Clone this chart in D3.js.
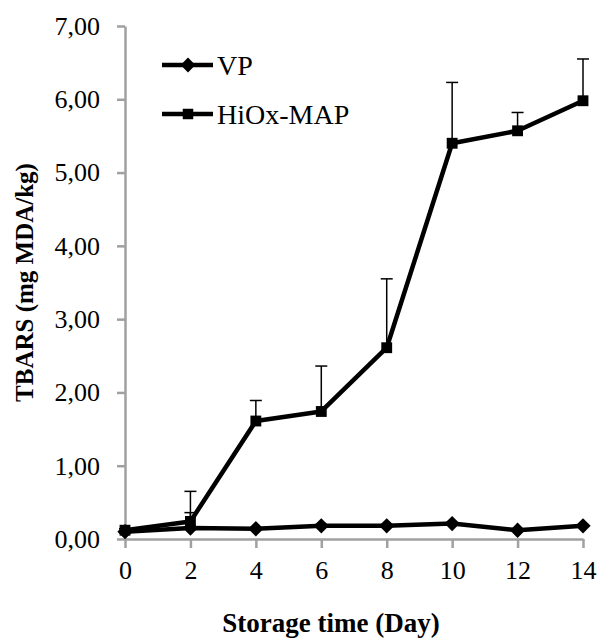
<!DOCTYPE html>
<html>
<head>
<meta charset="utf-8">
<script src="https://cdn.jsdelivr.net/npm/d3@7"></script>
<style>
  body { margin: 0; background: #fff; }
  text { font-family: "Liberation Serif", "Times New Roman", serif; fill: #000; }
</style>
</head>
<body>
<div id="chart"></div>
<script>
const days = [0, 2, 4, 6, 8, 10, 12, 14]
const vpValues = [0.10, 0.15, 0.14, 0.18, 0.18, 0.21, 0.12, 0.18]
const vpErrors = [0.01, 0.21, 0.01, 0.01, 0.01, 0.01, 0.01, 0.01]
const mapValues = [0.12, 0.24, 1.61, 1.74, 2.61, 5.40, 5.57, 5.98]
const mapErrors = [0.02, 0.41, 0.28, 0.62, 0.94, 0.83, 0.25, 0.57]
const yTicks = [0, 1, 2, 3, 4, 5, 6, 7]
const xTicks = [0, 2, 4, 6, 8, 10, 12, 14]

const width = 598
const height = 639
const margin = {left: 125, right: 15, top: 26, bottom: 100}

const svg = d3.select("#chart").append("svg")
    .attr("width", width)
    .attr("height", height)

const x = d3.scaleLinear().domain([0, 14]).range([margin.left, width - margin.right])
const y = d3.scaleLinear().domain([0, 7]).range([height - margin.bottom, margin.top])

const fmt = d => d.toFixed(2).replace(".", ",")

// y axis
const yAxis = svg.append("g")
    .attr("transform", `translate(${margin.left},0)`)
    .call(d3.axisLeft(y).tickValues(yTicks).tickFormat(fmt).tickSize(8).tickSizeOuter(0).tickPadding(17))
yAxis.select(".domain").attr("stroke", "#a0a0a0").attr("stroke-width", 2.5)
yAxis.selectAll(".tick line").attr("stroke", "#a0a0a0").attr("stroke-width", 2.5)
yAxis.selectAll(".tick text").style("font-size", "26px").style("font-family", "Liberation Serif")

// x axis
const xAxis = svg.append("g")
    .attr("transform", `translate(0,${y(0)})`)
    .call(d3.axisBottom(x).tickValues(xTicks).tickSize(9).tickSizeOuter(0).tickPadding(13))
xAxis.select(".domain").attr("stroke", "#a0a0a0").attr("stroke-width", 2.5)
xAxis.selectAll(".tick line").attr("stroke", "#a0a0a0").attr("stroke-width", 2.5)
xAxis.selectAll(".tick text").style("font-size", "26px").style("font-family", "Liberation Serif")

// axis titles
svg.append("text")
    .attr("x", 331)
    .attr("y", 632)
    .attr("text-anchor", "middle")
    .style("font-size", "27px").style("font-weight", "bold")
    .text("Storage time (Day)")

svg.append("text")
    .attr("transform", `translate(33,${(y(0) + y(7)) / 2}) rotate(-90)`)
    .attr("text-anchor", "middle")
    .style("font-size", "25px").style("font-weight", "bold")
    .text("TBARS (mg MDA/kg)")

const series = [
    {name: "VP", values: vpValues, errors: vpErrors, shape: d3.symbolDiamond2},
    {name: "HiOx-MAP", values: mapValues, errors: mapErrors, shape: d3.symbolSquare2}
]

const line = d3.line().x((d, i) => x(days[i])).y(d => y(d))

series.forEach(s => {
    // error bars (upper only)
    const eb = svg.append("g")
    s.values.forEach((v, i) => {
        const top = y(v + s.errors[i])
        eb.append("line")
            .attr("x1", x(days[i])).attr("x2", x(days[i]))
            .attr("y1", y(v)).attr("y2", top)
            .attr("stroke", "#000").attr("stroke-width", 1.5)
        eb.append("line")
            .attr("x1", x(days[i]) - 6).attr("x2", x(days[i]) + 6)
            .attr("y1", top).attr("y2", top)
            .attr("stroke", "#000").attr("stroke-width", 1.5)
    })
})

series.forEach(s => {
    svg.append("path")
        .datum(s.values)
        .attr("d", line)
        .attr("fill", "none")
        .attr("stroke", "#000")
        .attr("stroke-width", 4.5)
        .attr("stroke-linejoin", "round")
    svg.append("g").selectAll("path")
        .data(s.values)
        .join("path")
        .attr("transform", (d, i) => `translate(${x(days[i])},${y(d)})`)
        .attr("d", d3.symbol().type(s.shape).size(150))
        .attr("fill", "#000")
        .attr("stroke", "none")
})

// legend
const legend = svg.append("g")
series.forEach((s, i) => {
    const ly = 65 + i * 49
    legend.append("line")
        .attr("x1", 162).attr("x2", 213)
        .attr("y1", ly).attr("y2", ly)
        .attr("stroke", "#000").attr("stroke-width", 4.5)
    legend.append("path")
        .attr("transform", `translate(188,${ly})`)
        .attr("d", d3.symbol().type(s.shape).size(140))
        .attr("fill", "#000")
    legend.append("text")
        .attr("x", 217).attr("y", ly + 10)
        .style("font-size", "28px")
        .text(s.name)
})
</script>
</body>
</html>
